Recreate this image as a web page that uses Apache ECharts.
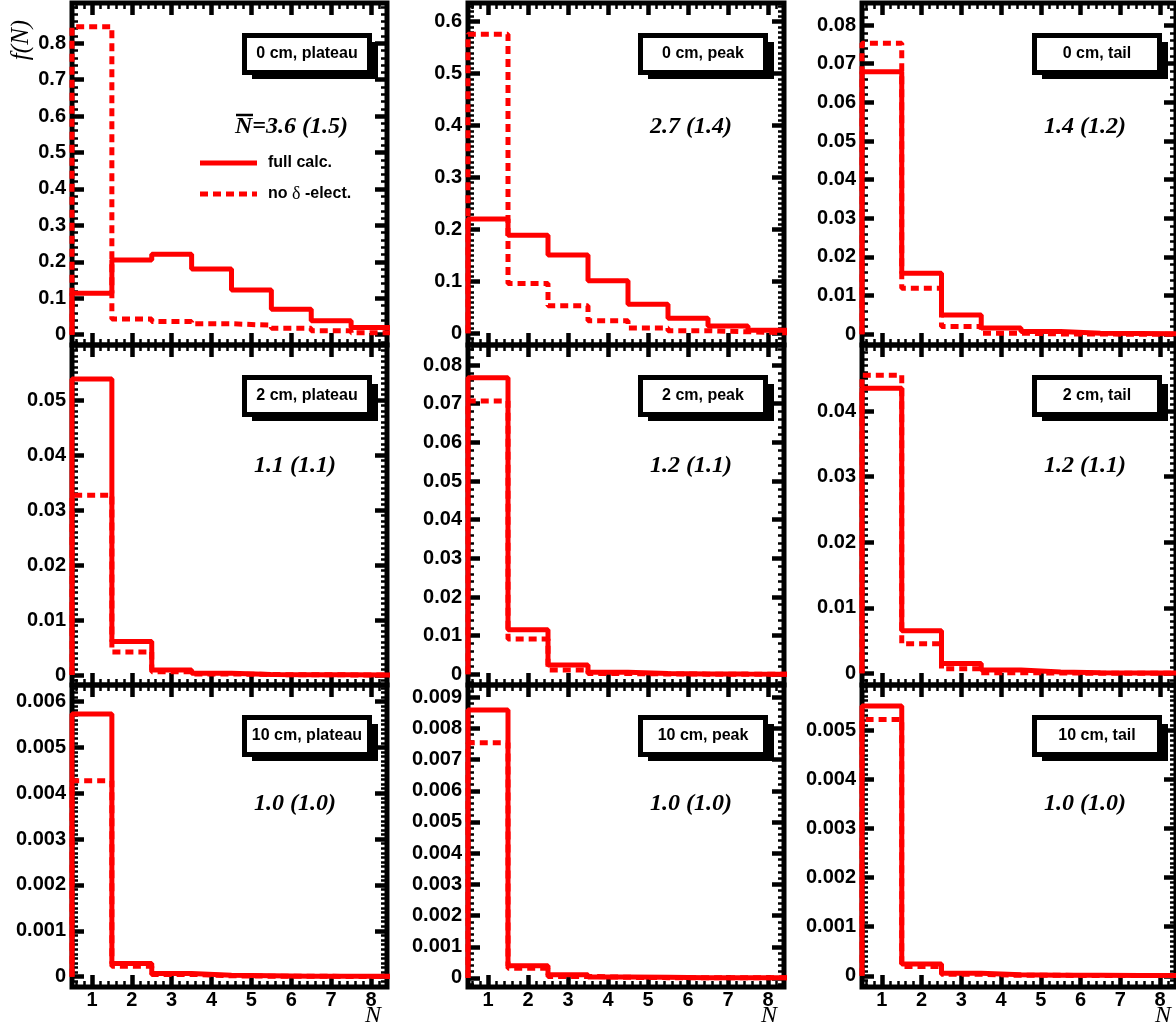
<!DOCTYPE html>
<html><head><meta charset="utf-8">
<script src="https://cdn.jsdelivr.net/npm/echarts@6/dist/echarts.min.js"></script>
<style>html,body{margin:0;padding:0;background:#fff}#c{width:1176px;height:1030px}</style>
</head><body><div id="c"></div>
<script>
// ---------------- DATA ----------------
const bins = [1, 2, 3, 4, 5, 6, 7, 8];
const xTicks = [1, 2, 3, 4, 5, 6, 7, 8];

const panelLabels = ['0 cm, plateau', '0 cm, peak', '0 cm, tail',
                     '2 cm, plateau', '2 cm, peak', '2 cm, tail',
                     '10 cm, plateau', '10 cm, peak', '10 cm, tail'];
const meanLabels = ['=3.6 (1.5)', '2.7 (1.4)', '1.4 (1.2)',
                    '1.1 (1.1)', '1.2 (1.1)', '1.2 (1.1)',
                    '1.0 (1.0)', '1.0 (1.0)', '1.0 (1.0)'];
const legendLabels = ['full calc.', 'no ', 'δ', ' -elect.'];

const full_0_plateau    = [0.114, 0.205, 0.221, 0.180, 0.123, 0.070, 0.038, 0.020];
const nodelta_0_plateau = [0.845, 0.043, 0.036, 0.030, 0.026, 0.018, 0.011, 0.005];
const full_0_peak       = [0.220, 0.189, 0.151, 0.101, 0.056, 0.029, 0.014, 0.006];
const nodelta_0_peak    = [0.576, 0.096, 0.053, 0.024, 0.010, 0.005, 0.003, 0.001];
const full_0_tail       = [0.0679, 0.0158, 0.0050, 0.0016, 0.0007, 0.0003, 0.0002, 0.0001];
const nodelta_0_tail    = [0.0753, 0.0119, 0.0020, 0.0003, 0.0001, 0.00005, 0.00003, 0.00002];

const full_2_plateau    = [0.0538, 0.0061, 0.0009, 0.0003, 0.0001, 0.00005, 0.00003, 0.00002];
const nodelta_2_plateau = [0.0327, 0.0042, 0.0006, 0.0002, 0.00008, 0.00004, 0.00002, 0.00001];
const full_2_peak       = [0.0767, 0.0115, 0.0024, 0.0005, 0.0002, 0.0001, 0.00005, 0.00003];
const nodelta_2_peak    = [0.0707, 0.0091, 0.0011, 0.0002, 0.00008, 0.00004, 0.00002, 0.00001];
const full_2_tail       = [0.0435, 0.0065, 0.0015, 0.0005, 0.0002, 0.0001, 0.00005, 0.00003];
const nodelta_2_tail    = [0.0455, 0.0045, 0.0007, 0.0001, 0.00005, 0.00002, 0.00001, 0.00001];

const full_10_plateau    = [0.00573, 0.00029, 0.00007, 0.00003, 0.00002, 0.00001, 0.00001, 0.00001];
const nodelta_10_plateau = [0.00427, 0.00023, 0.00005, 0.00002, 0.00001, 0.00001, 0.000005, 0.000005];
const full_10_peak       = [0.00859, 0.00039, 0.00010, 0.00003, 0.00002, 0.00001, 0.00001, 0.00001];
const nodelta_10_peak    = [0.00754, 0.00031, 0.00005, 0.00002, 0.00001, 0.00001, 0.000005, 0.000005];
const full_10_tail       = [0.00549, 0.00024, 0.00005, 0.00002, 0.00001, 0.00001, 0.000005, 0.000005];
const nodelta_10_tail    = [0.00522, 0.00019, 0.00003, 0.00001, 0.00001, 0.000005, 0.000005, 0.000005];

const yTicks_0_plateau  = [0, 0.1, 0.2, 0.3, 0.4, 0.5, 0.6, 0.7, 0.8];
const yTicks_0_peak     = [0, 0.1, 0.2, 0.3, 0.4, 0.5, 0.6];
const yTicks_0_tail     = [0, 0.01, 0.02, 0.03, 0.04, 0.05, 0.06, 0.07, 0.08];
const yTicks_2_plateau  = [0, 0.01, 0.02, 0.03, 0.04, 0.05];
const yTicks_2_peak     = [0, 0.01, 0.02, 0.03, 0.04, 0.05, 0.06, 0.07, 0.08];
const yTicks_2_tail     = [0, 0.01, 0.02, 0.03, 0.04];
const yTicks_10_plateau = [0, 0.001, 0.002, 0.003, 0.004, 0.005, 0.006];
const yTicks_10_peak    = [0, 0.001, 0.002, 0.003, 0.004, 0.005, 0.006, 0.007, 0.008, 0.009];
const yTicks_10_tail    = [0, 0.001, 0.002, 0.003, 0.004, 0.005];

const fullSets = [full_0_plateau, full_0_peak, full_0_tail, full_2_plateau, full_2_peak, full_2_tail, full_10_plateau, full_10_peak, full_10_tail];
const nodeltaSets = [nodelta_0_plateau, nodelta_0_peak, nodelta_0_tail, nodelta_2_plateau, nodelta_2_peak, nodelta_2_tail, nodelta_10_plateau, nodelta_10_peak, nodelta_10_tail];
const yTickSets = [yTicks_0_plateau, yTicks_0_peak, yTicks_0_tail, yTicks_2_plateau, yTicks_2_peak, yTicks_2_tail, yTicks_10_plateau, yTicks_10_peak, yTicks_10_tail];

// ---------------- LAYOUT / STYLE ----------------
const colLeft = [72, 468, 862], colWidth = [315, 316, 319];
const rowTop = [3, 345, 685], rowHeight = [342, 340, 302];
const meanY = [127, 466, 804];
const yRange = [[-0.0283, 0.9105], [-0.0225, 0.636], [-0.00277, 0.0857],
                [-0.00182, 0.0600], [-0.00277, 0.0852], [-0.00178, 0.0501],
                [-0.000225, 0.00636], [-0.00029, 0.00939], [-0.000228, 0.00592]];
const yMinorDiv = [5, 10, 5, 10, 5, 10, 10, 5, 10];
const X_MIN = 0.5, X_MAX = 8.4, X_MINOR = 0.2;
const SANS = '"Liberation Sans", Arial, Helvetica, sans-serif';
const SERIF = '"Liberation Serif", "Times New Roman", serif';
const RED = '#ff0000';

function range(step, lo, hi) {
  const out = [];
  const n0 = Math.ceil(lo / step - 1e-9), n1 = Math.floor(hi / step + 1e-9);
  for (let i = n0; i <= n1; i++) out.push(+(i * step).toFixed(10));
  return out;
}
function stepData(vals) {
  const d = [[bins[0] - 0.5, 0]];
  vals.forEach((v, i) => d.push([bins[i] - 0.5, v]));
  d.push([bins[bins.length - 1] + 0.5, vals[vals.length - 1]]);
  return d;
}
function mkAxis(gridIndex, position, min, max, values, major, showLabel, isX) {
  return {
    type: 'value', gridIndex, position, min, max, silent: true,
    axisLine: { show: false, onZero: false }, splitLine: { show: false }, minorTick: { show: false },
    axisTick: { show: true, inside: true, customValues: values, length: major ? 12 : 6,
                lineStyle: { color: '#000', width: major ? 4.5 : 2.5 } },
    axisLabel: { show: showLabel, customValues: values, margin: isX ? 3 : 6,
                 formatter: v => String(+(+v).toFixed(8)),
                 fontSize: 20, fontWeight: 'bold', fontFamily: SANS, color: '#000' }
  };
}

const grids = [], xAxes = [], yAxes = [], series = [], graphics = [];
const xMinor = range(X_MINOR, X_MIN, X_MAX).filter(v => Math.abs(v - Math.round(v)) > 1e-6);

for (let i = 0; i < 9; i++) {
  const r = Math.floor(i / 3), c = i % 3;
  const left = colLeft[c], top = rowTop[r], w = colWidth[c], h = rowHeight[r];
  grids.push({ left, top, width: w, height: h, show: true, borderColor: '#000', borderWidth: 5,
               backgroundColor: 'rgba(0,0,0,0)' });
  const [ymin, ymax] = yRange[i];
  const ticks = yTickSets[i];
  const step = ticks[1] - ticks[0];
  const yMinor = range(step / yMinorDiv[i], ymin, ymax)
    .filter(v => !ticks.some(t => Math.abs(t - v) < step * 1e-6));
  xAxes.push(mkAxis(i, 'bottom', X_MIN, X_MAX, xTicks, true, r === 2, true));
  xAxes.push(mkAxis(i, 'bottom', X_MIN, X_MAX, xMinor, false, false, true));
  xAxes.push(mkAxis(i, 'top', X_MIN, X_MAX, xTicks, true, false, true));
  xAxes.push(mkAxis(i, 'top', X_MIN, X_MAX, xMinor, false, false, true));
  yAxes.push(mkAxis(i, 'left', ymin, ymax, ticks, true, true, false));
  yAxes.push(mkAxis(i, 'left', ymin, ymax, yMinor, false, false, false));
  yAxes.push(mkAxis(i, 'right', ymin, ymax, ticks, true, false, false));
  yAxes.push(mkAxis(i, 'right', ymin, ymax, yMinor, false, false, false));

  series.push({ type: 'line', xAxisIndex: i * 4, yAxisIndex: i * 4, data: stepData(nodeltaSets[i]),
                step: 'end', symbol: 'none', silent: true, z: 3,
                lineStyle: { color: RED, width: 5, type: [8, 5], cap: 'butt' } });
  series.push({ type: 'line', xAxisIndex: i * 4, yAxisIndex: i * 4, data: stepData(fullSets[i]),
                step: 'end', symbol: 'none', silent: true, z: 4,
                lineStyle: { color: RED, width: 5, type: 'solid', cap: 'butt' } });

  // label box with shadow
  graphics.push({ type: 'rect', shape: { x: left + 180, y: top + 39, width: 126, height: 37 },
                  style: { fill: '#000' }, z: 10 });
  graphics.push({ type: 'rect', shape: { x: left + 172.5, y: top + 32.5, width: 125, height: 37 },
                  style: { fill: '#fff', stroke: '#000', lineWidth: 5 }, z: 11 });
  graphics.push({ type: 'text', x: left + 235, y: top + 51,
                  style: { text: panelLabels[i], font: 'bold 16px ' + SANS, fill: '#000',
                           align: 'center', verticalAlign: 'middle' }, z: 12 });
  // mean value text
  if (i === 0) {
    graphics.push({ type: 'text', x: left + 163, y: meanY[r],
                    style: { text: 'N' + meanLabels[i], font: 'italic bold 24px ' + SERIF, fill: '#000',
                             align: 'left', verticalAlign: 'middle' }, z: 12 });
    graphics.push({ type: 'line', shape: { x1: left + 164, y1: meanY[r] - 12, x2: left + 181, y2: meanY[r] - 12 },
                    style: { stroke: '#000', lineWidth: 2.5 }, z: 12 });
  } else {
    graphics.push({ type: 'text', x: left + 223, y: meanY[r],
                    style: { text: meanLabels[i], font: 'italic bold 24px ' + SERIF, fill: '#000',
                             align: 'center', verticalAlign: 'middle' }, z: 12 });
  }
  if (r === 2) {
    graphics.push({ type: 'text', x: left + 301, y: 1016,
                    style: { text: 'N', font: 'italic 24px ' + SERIF, fill: '#000',
                             align: 'center', verticalAlign: 'middle' }, z: 12 });
  }
}

// legend in first panel
const lx = colLeft[0];
graphics.push({ type: 'line', shape: { x1: lx + 128, y1: 163, x2: lx + 185, y2: 163 },
                style: { stroke: RED, lineWidth: 5 }, z: 12 });
graphics.push({ type: 'text', x: lx + 196, y: 163,
                style: { text: legendLabels[0], font: 'bold 16px ' + SANS, fill: '#000',
                         align: 'left', verticalAlign: 'middle' }, z: 12 });
graphics.push({ type: 'line', shape: { x1: lx + 128, y1: 194, x2: lx + 185, y2: 194 },
                style: { stroke: RED, lineWidth: 5, lineDash: [8, 5] }, z: 12 });
graphics.push({ type: 'text', x: lx + 196, y: 194,
                style: { text: '{b|' + legendLabels[1] + '}{d|' + legendLabels[2] + '}{b|' + legendLabels[3] + '}',
                         align: 'left', verticalAlign: 'middle',
                         rich: { b: { font: 'bold 16px ' + SANS, fill: '#000' },
                                 d: { font: '18px ' + SERIF, fill: '#000' } } }, z: 12 });
// y-axis title
graphics.push({ type: 'text', x: 21, y: 40, rotation: Math.PI / 2,
                style: { text: 'f(N)', font: 'italic 25px ' + SERIF, fill: '#000',
                         align: 'center', verticalAlign: 'middle' }, z: 12 });

const chart = echarts.init(document.getElementById('c'), null, { renderer: 'canvas' });
chart.setOption({
  animation: false,
  backgroundColor: '#fff',
  grid: grids, xAxis: xAxes, yAxis: yAxes, series, graphic: graphics
});
</script>
</body></html>
